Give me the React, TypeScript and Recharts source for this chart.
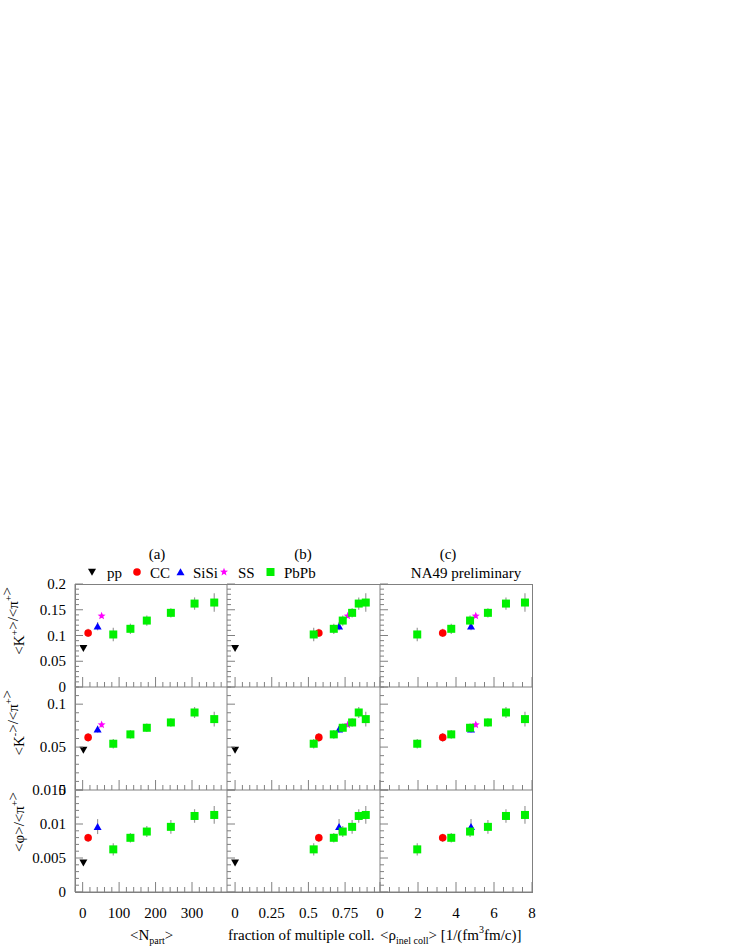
import React from 'react';
import { ScatterChart, Scatter, XAxis, YAxis, ErrorBar } from 'recharts';

const SERIF = '"Liberation Serif", "Times New Roman", serif';
const AXIS = '#808080';

// x values: <N_part>, fraction of multiple coll., <rho_inel coll>
const ppNpart = [2];
const ppFrac = [0];
const ppKp = [0.075];
const ppKm = [0.0465];
const ppPhi = [0.0043];

const ccNpart = [15];
const ccFrac = [0.571];
const ccRho = [3.3];
const ccKp = [0.105];
const ccKpErr = [0.008];
const ccKm = [0.0613];
const ccKmErr = [0.005];
const ccPhi = [0.00797];
const ccPhiErr = [0.0006];

const sisiNpart = [41];
const sisiFrac = [0.709];
const sisiRho = [4.79];
const sisiKp = [0.118];
const sisiKpErr = [0.008];
const sisiKm = [0.0709];
const sisiKmErr = [0.004];
const sisiPhi = [0.00962];
const sisiPhiErr = [0.0011];

const ssNpart = [52];
const ssFrac = [0.768];
const ssRho = [5.04];
const ssKp = [0.138];
const ssKpErr = [0.004];
const ssKm = [0.076];
const ssKmErr = [0.003];

const pbNpart = [84, 131, 176, 242, 307, 361];
const pbFrac = [0.536, 0.673, 0.734, 0.798, 0.843, 0.891];
const pbRho = [1.96, 3.75, 4.74, 5.68, 6.63, 7.63];
const pbKp = [0.102, 0.113, 0.129, 0.144, 0.162, 0.164];
const pbKpErr = [0.013, 0.01, 0.01, 0.009, 0.012, 0.018];
const pbKm = [0.0539, 0.0648, 0.0725, 0.0787, 0.0903, 0.0826];
const pbKmErr = [0.0055, 0.005, 0.005, 0.005, 0.0064, 0.0085];
const pbPhi = [0.00627, 0.00797, 0.00889, 0.00958, 0.01118, 0.01133];
const pbPhiErr = [0.0009, 0.0007, 0.0008, 0.001, 0.001, 0.0013];

// major tick labels
const npartMajor = [0, 100, 200, 300];
const fracMajor = [0, 0.25, 0.5, 0.75];
const rhoMajor = [0, 2, 4, 6, 8];
const kpMajor = [0, 0.05, 0.1, 0.15, 0.2];
const kmMajor = [0, 0.05, 0.1];
const phiMajor = [0, 0.005, 0.01, 0.015];

const steps = (a: number, b: number, s: number) => {
  const n = Math.round((b - a) / s);
  return Array.from({ length: n + 1 }, (_, i) => +(a + i * s).toFixed(6));
};
const isMajor = (v: number, majors: number[]) => majors.some((m) => Math.abs(m - v) < 1e-9);

const Square = ({ cx, cy }: any) => <rect x={cx - 4} y={cy - 4} width={8} height={8} fill="#00f000" />;
const Dot = ({ cx, cy }: any) => <circle cx={cx} cy={cy} r={3.8} fill="#ff0000" />;
const TriUp = ({ cx, cy }: any) => (
  <path d={`M${cx - 4},${cy + 3.3} L${cx + 4},${cy + 3.3} L${cx},${cy - 3.7} Z`} fill="#0000ff" />
);
const TriDown = ({ cx, cy }: any) => (
  <path d={`M${cx - 4},${cy - 3.3} L${cx + 4},${cy - 3.3} L${cx},${cy + 3.7} Z`} fill="#000000" />
);
const Star = ({ cx, cy }: any) => {
  const pts: string[] = [];
  for (let i = 0; i < 10; i++) {
    const r = i % 2 === 0 ? 4.2 : 1.8;
    const a = -Math.PI / 2 + (i * Math.PI) / 5;
    pts.push(`${cx + r * Math.cos(a)},${cy + r * Math.sin(a)}`);
  }
  return <polygon points={pts.join(' ')} fill="#ff00ff" />;
};

const SYSTEMS = [
  { name: 'pp', xs: [ppNpart, ppFrac, null], ys: [ppKp, ppKm, ppPhi], errs: [null, null, null], shape: TriDown },
  { name: 'CC', xs: [ccNpart, ccFrac, ccRho], ys: [ccKp, ccKm, ccPhi], errs: [ccKpErr, ccKmErr, ccPhiErr], shape: Dot },
  { name: 'SiSi', xs: [sisiNpart, sisiFrac, sisiRho], ys: [sisiKp, sisiKm, sisiPhi], errs: [sisiKpErr, sisiKmErr, sisiPhiErr], shape: TriUp },
  { name: 'SS', xs: [ssNpart, ssFrac, ssRho], ys: [ssKp, ssKm, null], errs: [ssKpErr, ssKmErr, null], shape: Star },
  { name: 'PbPb', xs: [pbNpart, pbFrac, pbRho], ys: [pbKp, pbKm, pbPhi], errs: [pbKpErr, pbKmErr, pbPhiErr], shape: Square },
];

const COLS = [
  { left: 75, width: 152, domain: [-21, 396], ticks: steps(-20, 380, 20), majors: npartMajor },
  { left: 227, width: 153, domain: [-0.055, 0.988], ticks: steps(0, 0.95, 0.05), majors: fracMajor },
  { left: 380, width: 152, domain: [0, 8], ticks: steps(0, 8, 0.5), majors: rhoMajor },
];
const ROWS = [
  { top: 584, height: 103, domain: [0, 0.2], ticks: steps(0, 0.2, 0.01), majors: kpMajor },
  { top: 687, height: 103, domain: [0, 0.12], ticks: steps(0, 0.12, 0.01), majors: kmMajor },
  { top: 790, height: 102, domain: [0, 0.015], ticks: steps(0, 0.015, 0.001), majors: phiMajor },
];

const YW = 60; // y axis band width (left of plot)
const XH = 40; // x axis band height (below plot)
const ML = 10;
const MT = 10;
const MB = 10;

function Panel({ c, r }: { c: number; r: number }) {
  const col = COLS[c];
  const row = ROWS[r];
  const showY = c === 0;
  const showX = r === 2;

  const yTick = (p: any) => {
    const v = p.payload.value;
    const y = p.payload.coordinate ?? p.y;
    const major = isMajor(v, row.majors);
    return (
      <g>
        <line x1={p.x} y1={y} x2={p.x + (major ? 8 : 4)} y2={y} stroke={AXIS} />
        {showY && major && (
          <text x={p.x - 9} y={y + 5} textAnchor="end" fontSize={15} fontFamily={SERIF} fill="#000">
            {String(v)}
          </text>
        )}
      </g>
    );
  };
  const xTick = (p: any) => {
    const v = p.payload.value;
    const x = p.payload.coordinate ?? p.x;
    const major = isMajor(v, col.majors);
    return (
      <g>
        <line x1={x} y1={p.y} x2={x} y2={p.y - (major ? 10 : 5)} stroke={AXIS} />
        {showX && major && (
          <text x={x} y={p.y + 26} textAnchor="middle" fontSize={15} fontFamily={SERIF} fill="#000">
            {String(v)}
          </text>
        )}
      </g>
    );
  };

  return (
    <div style={{ position: 'absolute', left: col.left - ML - YW, top: row.top - MT }}>
      <ScatterChart
        width={col.width + ML + YW + 10}
        height={row.height + MT + XH + MB}
        margin={{ top: MT, right: 10, left: ML, bottom: MB }}
        style={{ overflow: 'visible' }}
      >
        <XAxis
          type="number"
          dataKey="x"
          domain={col.domain}
          allowDataOverflow
          ticks={col.ticks}
          interval={0}
          height={XH}
          tickSize={0}
          tickMargin={0}
          tickLine={false}
          axisLine={{ stroke: AXIS }}
          tick={xTick}
        />
        <YAxis
          type="number"
          dataKey="y"
          domain={row.domain}
          allowDataOverflow
          ticks={row.ticks}
          interval={0}
          width={YW}
          tickSize={0}
          tickMargin={0}
          tickLine={false}
          axisLine={{ stroke: AXIS }}
          tick={yTick}
        />
        {SYSTEMS.map((s) => {
          const xs = s.xs[c];
          const ys = s.ys[r];
          if (!xs || !ys) return null;
          const errs = s.errs[r];
          const data = xs.map((x, i) => ({ x, y: ys[i], e: errs ? errs[i] : 0 }));
          const Shape = s.shape;
          return (
            <Scatter
              key={s.name}
              name={s.name}
              data={data}
              isAnimationActive={false}
              shape={(p: any) => <Shape cx={p.cx} cy={p.cy} />}
            >
              {errs && <ErrorBar dataKey="e" direction="y" width={0} stroke="#9a9a9a" strokeWidth={1.2} />}
            </Scatter>
          );
        })}
      </ScatterChart>
    </div>
  );
}

const Sup = ({ t }: { t: string }) => (
  <>
    <tspan dy={-6} fontSize={10}>{t}</tspan>
    <tspan dy={6}></tspan>
  </>
);

export default function App() {
  const txt = { fontFamily: SERIF, fontSize: 15, fill: '#000' } as const;
  return (
    <div style={{ position: 'absolute', left: 0, top: 0, width: 736, height: 952, background: '#fff' }}>
      {ROWS.map((_, r) => COLS.map((__, c) => <Panel key={`${r}-${c}`} c={c} r={r} />))}
      <div
        style={{
          position: 'absolute',
          left: 75,
          top: 584,
          width: 457.5,
          height: 308.5,
          border: `1px solid ${AXIS}`,
          boxSizing: 'border-box',
          pointerEvents: 'none',
        }}
      />
      <svg width={736} height={952} style={{ position: 'absolute', left: 0, top: 0, pointerEvents: 'none' }}>
        <text x={157} y={559} textAnchor="middle" {...txt}>(a)</text>
        <text x={303} y={559} textAnchor="middle" {...txt}>(b)</text>
        <text x={448} y={559} textAnchor="middle" {...txt}>(c)</text>
        <text x={466} y={578} textAnchor="middle" {...txt}>NA49 preliminary</text>

        {/* legend */}
        <TriDown cx={92} cy={572} />
        <text x={107} y={578} {...txt}>pp</text>
        <Dot cx={137} cy={572} />
        <text x={150} y={578} {...txt}>CC</text>
        <TriUp cx={180.5} cy={572} />
        <text x={193} y={578} {...txt}>SiSi</text>
        <Star cx={224} cy={572} />
        <text x={238} y={578} {...txt}>SS</text>
        <Square cx={270.5} cy={572} />
        <text x={284} y={578} {...txt}>PbPb</text>

        {/* y titles */}
        <text transform="translate(24,587) rotate(-90)" textAnchor="end" {...txt}>
          <tspan>&lt;K</tspan><Sup t="+" /><tspan>&gt;/&lt;π</tspan><Sup t="+" /><tspan>&gt;</tspan>
        </text>
        <text transform="translate(24,690) rotate(-90)" textAnchor="end" {...txt}>
          <tspan>&lt;K</tspan><Sup t="-" /><tspan>&gt;/&lt;π</tspan><Sup t="+" /><tspan>&gt;</tspan>
        </text>
        <text transform="translate(24,792) rotate(-90)" textAnchor="end" {...txt}>
          <tspan>&lt;φ&gt;/&lt;π</tspan><Sup t="+" /><tspan>&gt;</tspan>
        </text>

        {/* x titles */}
        <text x={130} y={940} {...txt}>
          <tspan>&lt;N</tspan>
          <tspan dy={4} fontSize={10}>part</tspan>
          <tspan dy={-4}>&gt;</tspan>
        </text>
        <text x={228} y={940} {...txt}>fraction of multiple coll.</text>
        <text x={380} y={940} {...txt}>
          <tspan>&lt;ρ</tspan>
          <tspan dy={4} fontSize={10}>inel coll</tspan>
          <tspan dy={-4}>&gt; [1/(fm</tspan>
          <tspan dy={-7} fontSize={10}>3</tspan>
          <tspan dy={7}>fm/c)]</tspan>
        </text>
      </svg>
    </div>
  );
}
